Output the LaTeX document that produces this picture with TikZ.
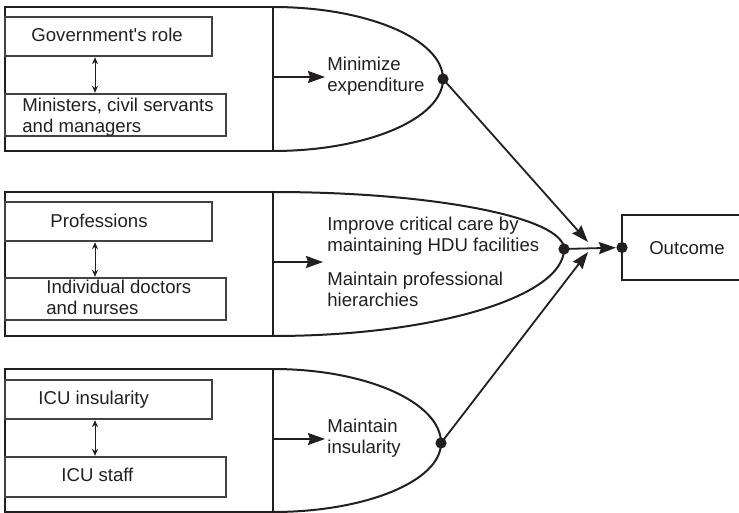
\documentclass[tikz,border=0pt]{standalone}
\usepackage{fontspec}
\setmainfont{Liberation Sans}[Ligatures=TeXOff]
\usetikzlibrary{arrows.meta,fit}
\definecolor{ink}{HTML}{231F20}
\begin{document}
\begin{tikzpicture}[x=0.5pt,y=-0.5pt,
  every node/.style={font=\fontsize{9.3}{10.75}\selectfont, text=ink},
  outerbox/.style={draw=ink, line width=1pt, inner sep=0pt, outer sep=0pt},
  innerbox/.style={draw=ink!85, line width=0.6pt, inner sep=0pt, outer sep=0pt},
  txt/.style={anchor=base west, inner sep=0pt, align=left},
  lens/.style={draw=ink, line width=1pt},
  flow/.style={draw=ink, line width=0.9pt, -{Stealth[length=8.5pt,width=6pt,inset=1pt]}},
  link/.style={draw=ink, line width=0.5pt,
    {Stealth[length=3.5pt,width=3pt]}-{Stealth[length=3.5pt,width=3pt]},
    shorten <=0.6pt, shorten >=0.6pt},
  junction/.style={fill=ink}
]
\useasboundingbox (0,0) rectangle (739,513);

% ---- frames of the three actor groups ----
\node[outerbox, fit={(5,7) (273,151)}] (govFrame) {};
\node[outerbox, fit={(5,192) (273,336)}] (proFrame) {};
\node[outerbox, fit={(5,369) (273,512)}] (icuFrame) {};

% ---- inner boxes ----
\node[innerbox, fit={(5,17) (212,56)}] (govBox) {};
\node[innerbox, fit={(5,94) (226,136)}] (minBox) {};
\node[innerbox, fit={(5,202) (212,241)}] (profBox) {};
\node[innerbox, fit={(5,278) (226,320)}] (docBox) {};
\node[innerbox, fit={(5,380) (212,419)}] (insBox) {};
\node[innerbox, fit={(5,457) (226,497)}] (staffBox) {};

% multi-line labels are placed by the baseline of their last line
\node[txt] (govText) at (31,42) {Government's role};
\node[txt] (minText) at (22,133) {Ministers, civil servants\\and managers};
\node[txt] (profText) at (50,227.5) {Professions};
\node[txt] (docText) at (46,314.5) {Individual doctors\\and nurses};
\node[txt] (insText) at (38,404) {ICU insularity};
\node[txt] (staffText) at (61,481) {ICU staff};

% ---- two-way links between the inner boxes ----
\coordinate (axis) at (95,0);
\draw[link] (govBox.south -| axis) -- (minBox.north -| axis);
\draw[link] (profBox.south -| axis) -- (docBox.north -| axis);
\draw[link] (insBox.south -| axis) -- (staffBox.north -| axis);

% ---- goal lenses ----
\coordinate (tipA) at (443,79);
\coordinate (tipB) at (564,249);
\coordinate (tipC) at (441,443);

\draw[lens] (govFrame.north east) .. controls +(94,0) and +(0,-39.7) .. (tipA)
  .. controls +(0,39.7) and +(94,0) .. (govFrame.south east);
\draw[lens] (proFrame.north east) .. controls +(160.6,0) and +(0,-31.5) .. (tipB)
  .. controls +(0,48) and +(160.6,0) .. (proFrame.south east);
\draw[lens] (icuFrame.north east) .. controls +(92.7,0) and +(0,-40.8) .. (tipC)
  .. controls +(0,38) and +(92.7,0) .. (icuFrame.south east);

\node[txt] (goalA) at (327,91.7) {Minimize\\expenditure};
\node[txt] (goalB1) at (327,251.7) {Improve critical care by\\maintaining HDU facilities};
\node[txt] (goalB2) at (327,306.7) {Maintain professional\\hierarchies};
\node[txt] (goalC) at (327,453.5) {Maintain\\insularity};

\coordinate (feedA) at (273,77);
\coordinate (feedB) at (273,262);
\coordinate (feedC) at (273,439);
\draw[flow, shorten >=1pt] (feedA) -- (feedA -| goalA.west);
\draw[flow, shorten >=2pt] (feedB) -- (feedB -| goalB1.west);
\draw[flow, shorten >=1pt] (feedC) -- (feedC -| goalC.west);

% ---- outcome ----
\node[outerbox, fit={(622,215) (780,280)}] (outcome) {};
\node (outText) at (687,248) {Outcome};

\coordinate (joinA) at (588,242);
\coordinate (joinC) at (588,252);
\draw[flow] (tipA) -- (joinA);
\draw[flow] (tipC) -- (joinC);
\draw[flow, shorten >=3pt] (tipB) -- (outcome.west);

\fill[junction] (tipA) circle (2.8pt);
\fill[junction] (tipB) circle (2.8pt);
\fill[junction] (tipC) circle (2.8pt);
\fill[junction] (outcome.west) circle (2.8pt);
\end{tikzpicture}
\end{document}
